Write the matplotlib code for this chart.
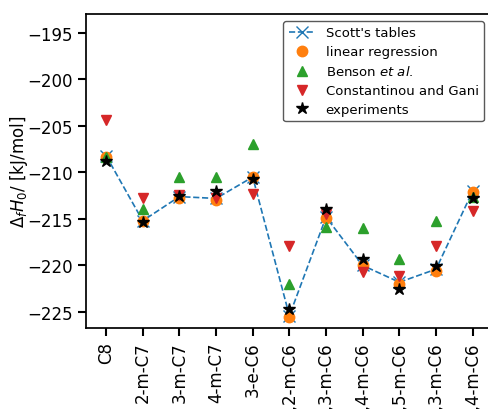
import matplotlib
matplotlib.use("Agg")
import matplotlib.pyplot as plt

# isomeros do octano
molecules = ["C8", "2-m-C7", "3-m-C7", "4-m-C7", "3-e-C6", "2,2-m-C6",
             "2,3-m-C6", "2,4-m-C6", "2,5-m-C6", "3,3-m-C6", "3,4-m-C6"]

# entalpias de formacao [kJ/mol]
scott = [-208.2, -215.2, -212.6, -212.8, -210.5, -225.4, -214.8, -220.0, -221.8, -220.4, -212.0]
linear = [-208.3, -215.2, -212.7, -213.0, -210.5, -225.5, -214.9, -219.9, -222.0, -220.6, -212.1]
benson = [-208.3, -213.9, -210.5, -210.5, -207.0, -222.0, -215.9, -216.0, -219.3, -215.2, -212.6]
constantinou = [-204.4, -212.7, -212.4, -212.7, -212.3, -217.9, -214.5, -220.7, -221.1, -217.9, -214.2]
experiments = [-208.8, -215.3, -212.5, -212.0, -210.7, -224.7, -213.9, -219.3, -222.5, -220.1, -212.8]

x = list(range(len(molecules)))

fig = plt.figure(figsize=(4.88, 4.10), dpi=100)
ax = fig.add_axes([0.176, 0.198, 0.834, 0.765])

ax.plot(x, scott, "x--", color="tab:blue", lw=1.2, ms=8, mew=1.0, label="Scott's tables")
ax.plot(x, linear, "o", color="tab:orange", ms=7.5, ls="none", label="linear regression")
ax.plot(x, benson, "^", color="tab:green", ms=7.5, ls="none", label="Benson $et\\ al$.")
ax.plot(x, constantinou, "v", color="tab:red", ms=7.5, ls="none", label="Constantinou and Gani")
ax.plot(x, experiments, "*", color="black", ms=9, ls="none", label="experiments")

ax.set_xlim(-0.55, 10.55)
ax.set_ylim(-226.7, -193.0)
ax.set_yticks([-225, -220, -215, -210, -205, -200, -195])
ax.set_xticks(x)
ax.set_xticklabels(molecules, rotation=90)
ax.set_ylabel(r"$\Delta_f H_0$/ [kJ/mol]", fontsize=12)
ax.yaxis.set_label_coords(-0.137, 0.5)
ax.tick_params(labelsize=12, length=6, width=1.5)
for s in ax.spines.values():
    s.set_linewidth(1.25)

leg = ax.legend(loc="upper right", bbox_to_anchor=(0.978, 0.978), borderaxespad=0,
                fontsize=9.5, handletextpad=0.8, labelspacing=0.45, borderpad=0.4,
                fancybox=True, framealpha=1)
leg.get_frame().set_edgecolor("0.35")

plt.savefig("out.png", dpi=100)
